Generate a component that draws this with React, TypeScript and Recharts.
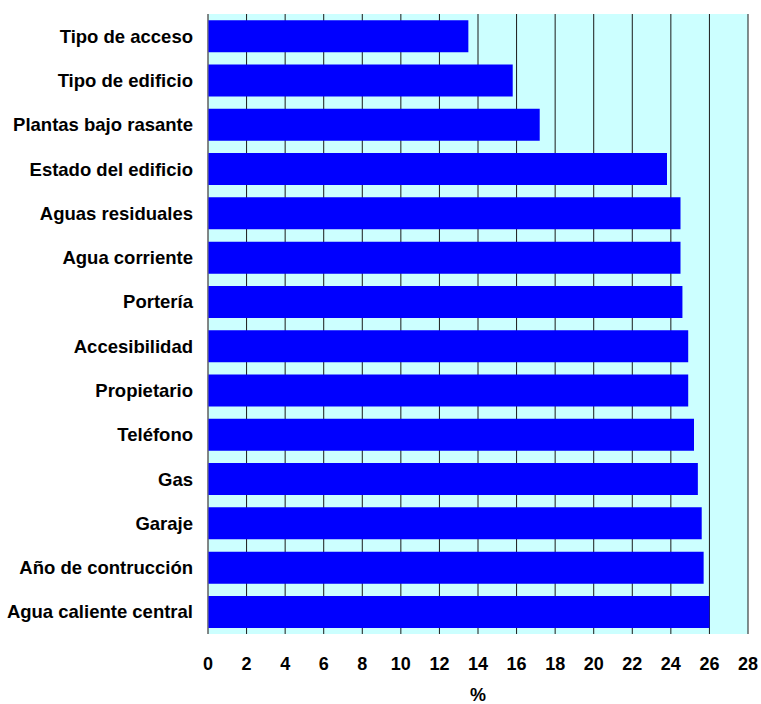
import React from 'react';
import { BarChart, Bar, XAxis, YAxis, CartesianGrid } from 'recharts';

// Share of records with each field filled in (%)
const fields = [
  'Tipo de acceso',
  'Tipo de edificio',
  'Plantas bajo rasante',
  'Estado del edificio',
  'Aguas residuales',
  'Agua corriente',
  'Portería',
  'Accesibilidad',
  'Propietario',
  'Teléfono',
  'Gas',
  'Garaje',
  'Año de contrucción',
  'Agua caliente central',
];
const percents = [13.5, 15.8, 17.2, 23.8, 24.5, 24.5, 24.6, 24.9, 24.9, 25.2, 25.4, 25.6, 25.7, 26.0];
const xTicks = [0, 2, 4, 6, 8, 10, 12, 14, 16, 18, 20, 22, 24, 26, 28];

const data = fields.map((name, i) => ({ name, value: percents[i] }));

const font = { fontFamily: 'Arial, "Liberation Sans", sans-serif', fontWeight: 700, fill: '#000' };

export default function App() {
  return (
    <div style={{ position: 'absolute', left: 0, top: 0 }}>
      <BarChart
        width={761}
        height={704}
        data={data}
        layout="vertical"
        margin={{ top: 14, right: 13, left: 0, bottom: 0 }}
        barCategoryGap="14%"
      >
        <CartesianGrid horizontal={false} vertical stroke="#1a1a1a" fill="#CCFFFF" fillOpacity={1} />
        <XAxis
          type="number"
          domain={[0, 28]}
          ticks={xTicks}
          interval={0}
          height={70}
          axisLine={false}
          tickLine={false}
          tickMargin={17}
          tick={{ ...font, fontSize: 18 }}
          label={{ value: '%', position: 'insideBottom', offset: 3, style: { ...font, fontSize: 18 } }}
        />
        <YAxis
          type="category"
          dataKey="name"
          width={208}
          axisLine={{ stroke: '#808080' }}
          tickLine={false}
          tickMargin={9}
          interval={0}
          tick={{ ...font, fontSize: 18.5 }}
        />
        <Bar dataKey="value" fill="#0000FF" isAnimationActive={false} />
      </BarChart>
    </div>
  );
}
